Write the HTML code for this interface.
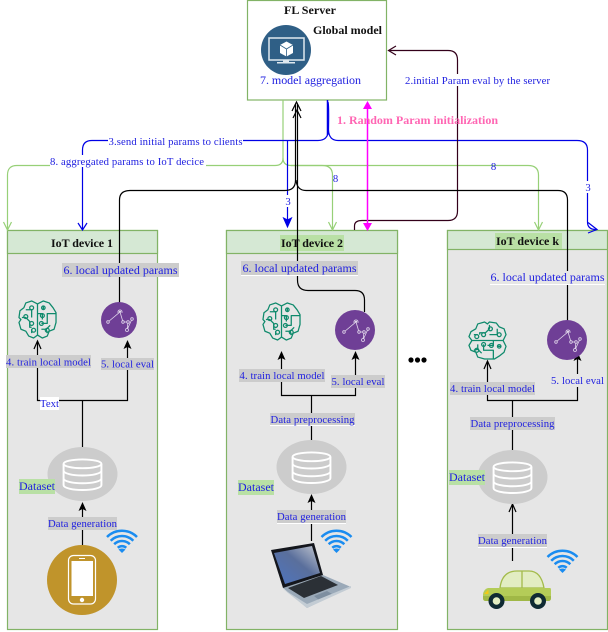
<!DOCTYPE html>
<html><head><meta charset="utf-8"><style>
html,body{margin:0;padding:0;background:#fff}
svg{display:block}
text{font-family:"Liberation Serif",serif;font-size:10.7px;fill:#2020e0}
text.b{font-weight:bold;fill:#111;font-size:12px}
text.m{font-size:12px}
</style></head><body>
<svg width="608" height="632" viewBox="0 0 608 632" xmlns="http://www.w3.org/2000/svg">
<defs>
<linearGradient id="scr" x1="0" y1="1" x2="1" y2="0"><stop offset="0" stop-color="#4d74c0"/><stop offset=".55" stop-color="#5a6f9c"/><stop offset="1" stop-color="#c4c8d0"/></linearGradient>
<symbol id="brain" viewBox="0 0 40 40" overflow="visible">
<g fill="none" stroke="#0f8a6c" stroke-width="1.300" stroke-linejoin="round">
<path d="M20 4 L14 1 L8 3 L6 8 L2 11 L1 18 L3 20 L1 23 L3 30 L8 32 L11 37 L16 39 L20 36 L25 39 L30 37 L32 32 L37 30 L39 23 L39 13 L36 8 L32 3 L26 1 Z"/>
<path d="M20 4V36M8 10H14V18M4 18H8L12 22V28H14M14 34V30M20 14H25V20M26 6V10M24 24H30V14H39M24 30H29L33 26M30 34L29 30"/>
<circle cx="14" cy="8" r="2"/><circle cx="8" cy="17" r="2"/><circle cx="14" cy="24" r="2"/><circle cx="16" cy="31" r="2"/><circle cx="25" cy="16" r="2"/><circle cx="26" cy="8" r="1.800"/><circle cx="24" cy="24" r="2"/><circle cx="30" cy="31" r="2"/>
</g></symbol>
<symbol id="db" viewBox="0 0 44 34" overflow="visible">
<g fill="none" stroke="#fff" stroke-width="2">
<ellipse cx="22" cy="6" rx="19.500" ry="4.500"/>
<path d="M2.500 6V28C2.500 31 12 33 22 33S41.500 31 41.500 28V6M2.500 13C2.500 16 12 18 22 18S41.500 16 41.500 13M2.500 21C2.500 24 12 26 22 26S41.500 24 41.500 21"/>
</g></symbol>
<symbol id="wifi" viewBox="0 0 32 24" overflow="visible">
<g fill="none" stroke="#1a8cf0" stroke-width="2.500">
<path d="M1 8A21.200 21.200 0 0 1 31 8"/><path d="M4.700 11.700A16 16 0 0 1 27.300 11.700"/><path d="M8.200 15.200A11 11 0 0 1 23.800 15.200"/><path d="M11.800 18.800A6 6 0 0 1 20.200 18.800"/>
</g><path d="M16 24L12.500 20.500Q16 18.500 19.500 20.500Z" fill="#1a8cf0"/></symbol>
<symbol id="eval" viewBox="-20 -20 40 40" overflow="visible">
<g fill="none" stroke="#e0d6ea" stroke-width=".8">
<path d="M-11 2L1 -8L4 2L9 2L8 10L13 -1"/>
<circle cx="-11" cy="2" r="1.300" fill="#6f3f96"/><circle cx="4" cy="2" r="1.300" fill="#6f3f96"/><circle cx="9" cy="2" r="1.300" fill="#6f3f96"/><circle cx="8" cy="10" r="1.500" fill="#6f3f96"/><circle cx="13" cy="-1" r="1.300" fill="#6f3f96"/>
<path d="M-1 -10L1 -8L3 -10M1 -11V-8M-2 -8H4"/>
</g></symbol>
</defs>

<!-- server -->
<rect x="247.500" y="0.500" width="139" height="99.500" fill="#fff" stroke="#82b366" stroke-width="1.200"/>
<circle cx="286" cy="50" r="25" fill="#2f5f86"/>
<rect x="269" y="38" width="35" height="22" fill="none" stroke="#dfe8ef" stroke-width="1.500"/>
<path d="M283 60h6v2h-6zM277 62h18v1.500h-18z" fill="#dfe8ef"/>
<path d="M286.500 41.500L293 45V53L286.500 56.500L280 53V45Z" fill="#fff"/>
<path d="M280 45L286.500 49L293 45M286.500 49V56.500" stroke="#2f5f86" fill="none" stroke-width=".8"/>

<!-- devices -->
<g stroke="#82b366" stroke-width="1.200">
<rect x="7.500" y="230.500" width="150" height="399" fill="#e6e6e6"/>
<rect x="7.500" y="230.500" width="150" height="23" fill="#d5e8d4"/>
<rect x="226.500" y="230.500" width="171" height="399" fill="#e6e6e6"/>
<rect x="226.500" y="230.500" width="171" height="23" fill="#d5e8d4"/>
<rect x="447.500" y="230.500" width="160" height="399" fill="#e6e6e6"/>
<rect x="447.500" y="230.500" width="160" height="19" fill="#d5e8d4"/>
</g>
<rect x="280" y="235" width="64" height="16" fill="#b9e0a5"/>
<rect x="495" y="233" width="67" height="16" fill="#b9e0a5"/>

<!-- green connectors -->
<g fill="none" stroke="#97d077" stroke-width="1.200">
<path d="M283 100V158Q283 165.500 275 165.500H17Q7.500 165.500 7.500 175V229"/>
<path d="M3.500 222L7.500 230L11.500 222"/>
<path d="M283 158Q283 165.500 291 165.500H322Q332.500 165.500 332.500 175V229"/>
<path d="M328.500 222L332.500 230L336.500 222"/>
<path d="M291 165.500H528Q538.500 165.500 538.500 175V229"/>
<path d="M534.500 222L538.500 230L542.500 222"/>
</g>

<!-- blue connectors -->
<g fill="none" stroke="#0000e6" stroke-width="1.200">
<path d="M328 102Q329 105 328.500 130Q328 140.500 318 140.500H92Q82.500 140.500 82.500 150V229"/>
<path d="M78 223L82.500 230L87 223"/>
<path d="M328.500 130Q329 140.500 338 140.500H577Q587.500 140.500 587.500 150V222Q587.500 229.500 596 229.500"/>
<path d="M588 222.500L597 229.500L588 233"/>
<path d="M287.500 140.500V220"/>
<path d="M327.500 100V135" stroke-width="1.500"/>
</g>
<path d="M287.500 227L283.500 218L287.500 220L291.500 218Z" fill="#0000e6" stroke="#0000e6"/>

<!-- maroon -->
<g fill="none" stroke="#33001a" stroke-width="1.200">
<path d="M354.500 230V226Q354.500 220.500 362 220.500H448Q457.500 220.500 457.500 211V60Q457.500 50.500 448 50.500H389"/>
<path d="M396 46L388.500 50.500L396 55"/>
</g>

<!-- magenta -->
<path d="M367.500 106V226" stroke="#ff00ff" stroke-width="1.500" fill="none"/>
<path d="M367.500 101L372 109H363ZM367.500 231L372 223H363Z" fill="#ff00ff"/>

<!-- black updated-params lines -->
<g fill="none" stroke="#000" stroke-width="1.200">
<path d="M119.500 305V200Q119.500 190.500 130 190.500H285Q295.500 190.500 295.500 180V104"/>
<path d="M364.500 312V300Q364.500 290.500 355 290.500H308Q297.500 290.500 297.500 280V104"/>
<path d="M567.500 322V200Q567.500 190.500 558 190.500H306Q297 190.500 296 180"/>
<path d="M292 111L296.500 102L301 111M293 118L297 110L301 118"/>
</g>

<!-- device flow -->
<g fill="none" stroke="#000" stroke-width="1.200">
<path d="M37.500 342V400.500H127.500V347M82.500 400.500V450M82.500 509V546"/>
<path d="M34 349L37.500 341L41 349"/>
<path d="M281.500 358V395.500H355.500V358M311.500 395.500V442M311.500 501V541"/>
<path d="M487.500 362V400.500H577.500V359M512.500 400.500V452M512.500 505V561"/>
<path d="M484 369L487.500 361L491 369M509 512L512.500 504L516 512"/>
</g>
<g fill="#000">
<path d="M127.500 340L131.500 349L127.500 347L123.500 349Z"/>
<path d="M82.500 502L86.500 511L82.500 509L78.500 511Z"/>
<path d="M281.500 351L285.500 360L281.500 358L277.500 360Z"/><path d="M355.500 351L359.500 360L355.500 358L351.500 360Z"/>
<path d="M311.500 494L315.500 503L311.500 501L307.500 503Z"/>
<path d="M577.500 352L581.500 361L577.500 359L573.500 361Z"/>
</g>

<!-- nodes -->
<use href="#brain" x="18" y="300" width="39" height="39"/>
<use href="#brain" x="262" y="302" width="39" height="39"/>
<use href="#brain" transform="translate(507 321) rotate(90) scale(.975)" width="40" height="40"/>
<circle cx="119" cy="320" r="18" fill="#6f3f96"/><use href="#eval" x="99" y="300" width="40" height="40"/>
<circle cx="355" cy="330" r="20" fill="#6f3f96"/><use href="#eval" x="335" y="310" width="40" height="40"/>
<circle cx="567" cy="340" r="20" fill="#6f3f96"/><use href="#eval" x="547" y="320" width="40" height="40"/>

<ellipse cx="82.500" cy="474" rx="35" ry="27" fill="#ccc"/><use href="#db" x="61" y="458" width="43" height="33"/>
<ellipse cx="311.500" cy="467" rx="35" ry="27" fill="#ccc"/><use href="#db" x="290" y="451" width="43" height="33"/>
<ellipse cx="512.500" cy="477" rx="35" ry="27" fill="#ccc"/><use href="#db" x="491" y="461" width="43" height="33"/>

<use href="#wifi" x="106" y="529" width="32" height="24"/>
<use href="#wifi" x="320.500" y="529" width="32" height="24"/>
<use href="#wifi" x="546.500" y="549" width="32" height="24"/>

<!-- phone -->
<circle cx="82" cy="580" r="35" fill="#c0942b"/>
<rect x="68.500" y="555.500" width="27" height="48.500" rx="5" fill="none" stroke="#fff" stroke-width="1.200"/>
<rect x="71.500" y="561" width="21.500" height="35" fill="#fff"/>
<circle cx="82" cy="600" r="2.200" fill="#fff"/>
<rect x="79" y="558" width="6" height="1" fill="#fff"/>

<!-- laptop -->
<path d="M283 588L323 575L351 587L307 608Z" fill="#9aa9b8"/>
<path d="M288 588L321 576L338 585L304 598Z" fill="#2b3036"/>
<path d="M314 596L327 591L332 594L319 600Z" fill="#7d8ea0"/>
<path d="M283 589L307 608L351 588L351 586L307 604Z" fill="#c3ccd4"/>
<path d="M271 550L314 543L323 575L283 588Z" fill="#14161c"/>
<path d="M274 553L312 546L320 573L285 584Z" fill="url(#scr)"/>

<!-- car -->
<path d="M500 588Q502 571 517 571H529Q541 571 544 588Z" fill="#e2edc2" stroke="#a3bb4a" stroke-width="1.300"/>
<path d="M522 571V588" stroke="#a3bb4a" stroke-width="1.300"/>
<path d="M488 588H550Q551 588 551 590V598Q551 601 548 601H486Q483 601 483 598V594Q484 589 488 588Z" fill="#b4cc58"/>
<path d="M483 596H551V598Q551 601 548 601H486Q483 601 483 598Z" fill="#a0b846"/>
<path d="M484 594L488 590H488.500V594Z" fill="#f6c915"/>
<circle cx="496.500" cy="601" r="8" fill="#0f2a33"/><circle cx="496.500" cy="601" r="3.800" fill="#e2edc2"/>
<circle cx="538" cy="601" r="8" fill="#0f2a33"/><circle cx="538" cy="601" r="3.800" fill="#e2edc2"/>

<!-- dots -->
<circle cx="411" cy="360" r="2.600" fill="#000"/><circle cx="417.500" cy="360" r="2.600" fill="#000"/><circle cx="424" cy="360" r="2.600" fill="#000"/>

<!-- label backgrounds -->
<g fill="#fff">
<rect x="108" y="135" width="135" height="12"/>
<rect x="50" y="155" width="156" height="12"/>
<rect x="405" y="74" width="145" height="12"/>
<rect x="283" y="195" width="10" height="12"/>
<rect x="585" y="181" width="6" height="12"/>
<rect x="40" y="397" width="19" height="13"/>
<rect x="62" y="276" width="95" height="1"/><rect x="241" y="275" width="117" height="1"/><rect x="490" y="284" width="115" height="1"/>
<rect x="277" y="523" width="69" height="1"/><rect x="270" y="425" width="85" height="1"/><rect x="478" y="547" width="69" height="1"/>
</g>
<g fill="#ccc">
<rect x="62" y="263" width="117" height="14"/>
<rect x="6" y="355" width="85" height="13"/>
<rect x="101" y="358" width="53" height="12"/>
<rect x="48" y="517" width="69" height="13"/>
<rect x="241" y="261" width="117" height="14"/>
<rect x="239" y="369" width="86" height="13"/>
<rect x="331" y="375" width="54" height="13"/>
<rect x="270" y="413" width="85" height="12"/>
<rect x="277" y="510" width="69" height="13"/>
<rect x="450" y="382" width="85" height="13"/>
<rect x="470" y="417" width="85" height="13"/>
<rect x="478" y="534" width="69" height="13"/>
</g>
<rect x="490" y="271" width="115" height="13" fill="#e6e6e6"/>
<rect x="551" y="374" width="53" height="13" fill="#e6e6e6"/>
<g fill="#b9e0a5">
<rect x="19" y="479" width="36" height="15"/>
<rect x="238" y="480" width="36" height="15"/>
<rect x="449" y="470" width="36" height="15"/>
</g>

<!-- text -->
<g text-anchor="middle">
<text class="b" x="310" y="14" textLength="52">FL Server</text>
<text class="b" x="347.500" y="34" textLength="69">Global model</text>
<text class="b" x="82" y="247" textLength="62">IoT device 1</text>
<text class="b" x="312" y="247" textLength="62">IoT device 2</text>
<text class="b" x="527.500" y="245" textLength="63">IoT device k</text>
<text class="m" x="310.500" y="84" textLength="101">7. model aggregation</text>
<text x="175.500" y="145" textLength="134">3.send initial params to clients</text>
<text x="127" y="165" textLength="154">8. aggregated params to IoT decice</text>
<text x="477.500" y="84" textLength="145">2.initial Param eval by the server</text>
<text x="417.500" y="124" style="font-size:12px;font-weight:bold;fill:#ff66b3" textLength="161">1. Random Param initialization</text>
<text x="288" y="205">3</text><text x="335.500" y="182">8</text><text x="493.500" y="170">8</text><text x="588" y="191">3</text>

<text class="m" x="120.500" y="274" textLength="114">6. local updated params</text>
<text x="48.500" y="365.500" textLength="85">4. train local model</text>
<text x="127.500" y="367.500" textLength="53">5. local eval</text>
<text x="49.500" y="407" textLength="19">Text</text>
<text class="m" x="37" y="490" textLength="36">Dataset</text>
<text x="82.500" y="527" textLength="69">Data generation</text>

<text class="m" x="299.500" y="272" textLength="114">6. local updated params</text>
<text x="282" y="379" textLength="85">4. train local model</text>
<text x="358" y="385" textLength="53">5. local eval</text>
<text x="312.500" y="423" textLength="84">Data preprocessing</text>
<text class="m" x="256" y="491" textLength="36">Dataset</text>
<text x="311.500" y="520" textLength="69">Data generation</text>

<text class="m" x="547.500" y="281" textLength="114">6. local updated params</text>
<text x="492.500" y="392" textLength="85">4. train local model</text>
<text x="577.500" y="384" textLength="53">5. local eval</text>
<text x="512.500" y="427" textLength="84">Data preprocessing</text>
<text class="m" x="467" y="481" textLength="36">Dataset</text>
<text x="512.500" y="544" textLength="69">Data generation</text>
</g>
</svg>
</body></html>
